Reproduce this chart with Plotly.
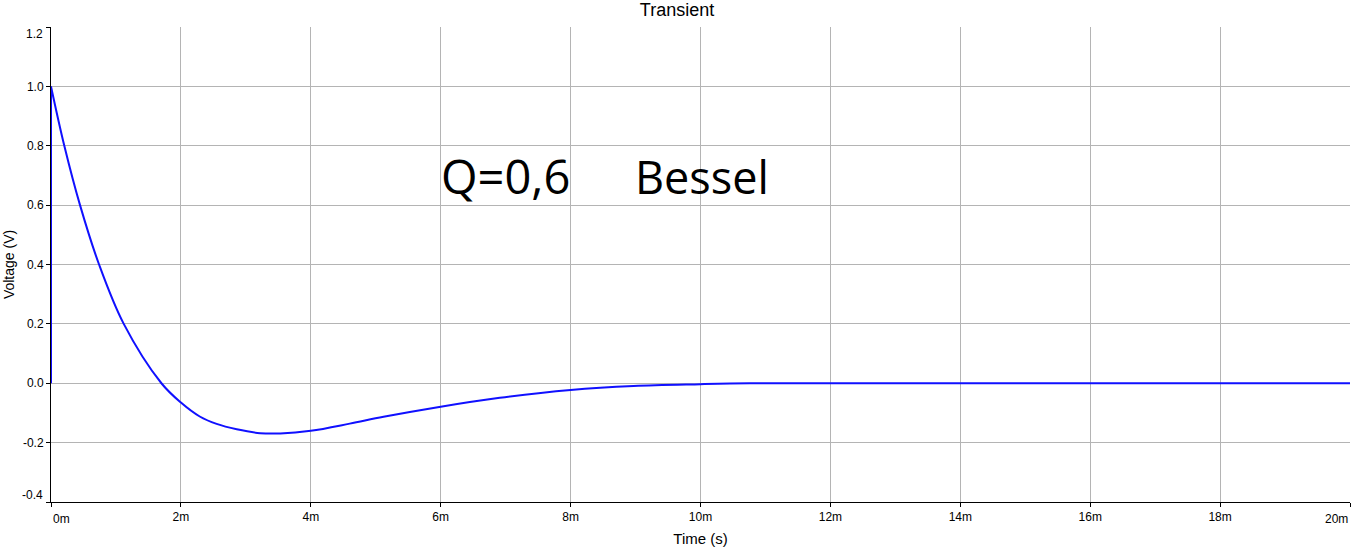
import plotly.graph_objects as go

# Time in milliseconds, voltage in volts
step_t = [0, 0]
step_v = [0.0, 1.0]

time_ms = [0, 0.205, 0.447, 0.74, 1.12, 1.70, 2.0, 2.29, 2.55, 2.86, 3.22,
           3.53, 4.0, 4.60, 5.12, 6.0, 6.91, 8.0, 8.97, 10.0, 10.76, 12, 14, 16, 18, 20]
voltage = [1.0, 0.8, 0.6, 0.4, 0.2, 0.0, -0.065, -0.112, -0.137, -0.155, -0.168,
           -0.169, -0.160, -0.136, -0.113, -0.079, -0.049, -0.0225, -0.009, -0.003, 0.0,
           0.0, 0.0, 0.0, 0.0, 0.0]

x_ticks = [0, 2, 4, 6, 8, 10, 12, 14, 16, 18, 20]
x_labels = ["0m", "2m", "4m", "6m", "8m", "10m", "12m", "14m", "16m", "18m", "20m"]
y_ticks = [-0.4, -0.2, 0.0, 0.2, 0.4, 0.6, 0.8, 1.0, 1.2]
y_labels = ["-0.4", "-0.2", "0.0", "0.2", "0.4", "0.6", "0.8", "1.0", "1.2"]

# End labels are drawn as annotations so they sit inside the plot edges
x_text = [""] + x_labels[1:-1] + [""]
y_text = [""] + y_labels[1:-1] + [""]

fig = go.Figure()
fig.add_trace(go.Scatter(x=step_t, y=step_v, mode="lines",
                         line=dict(color="#1010ff", width=2), showlegend=False))
fig.add_trace(go.Scatter(x=time_ms, y=voltage, mode="lines",
                         line=dict(color="#1010ff", width=2, shape="spline", smoothing=1.0),
                         showlegend=False))

fig.add_annotation(x=6.99, y=0.697, text="Q=0,6", showarrow=False,
                   font=dict(family="Open Sans", size=47, color="black"))
fig.add_annotation(x=10.02, y=0.697, text="Bessel", showarrow=False,
                   font=dict(family="Open Sans", size=45, color="black"))

tick_font = dict(family="Liberation Sans, Arial", size=12, color="black")
fig.add_annotation(x=x_ticks[0], xref="x", y=0, yref="paper", text=x_labels[0],
                   xanchor="left", yanchor="top", yshift=-8, showarrow=False,
                   font=tick_font)
fig.add_annotation(x=x_ticks[-1], xref="x", y=0, yref="paper", text=x_labels[-1],
                   xanchor="right", yanchor="top", yshift=-8, showarrow=False,
                   font=tick_font)
fig.add_annotation(x=0, xref="paper", y=y_ticks[-1], yref="y", text=y_labels[-1],
                   xanchor="right", yanchor="middle", xshift=-6, yshift=-7,
                   showarrow=False, font=tick_font)
fig.add_annotation(x=0, xref="paper", y=y_ticks[0], yref="y", text=y_labels[0],
                   xanchor="right", yanchor="middle", xshift=-6, yshift=7,
                   showarrow=False, font=tick_font)

fig.update_layout(
    width=1354, height=551,
    margin=dict(l=51, r=4, t=26.5, b=48.5, autoexpand=False),
    paper_bgcolor="white", plot_bgcolor="white",
    font=dict(family="Liberation Sans, Arial", size=12, color="black"),
    title=dict(text="Transient", x=0.5, xref="container", y=0.982, yanchor="middle",
               font=dict(size=18, color="black")),
    xaxis=dict(range=[0, 20], tickvals=x_ticks, ticktext=x_text, automargin=False,
               showgrid=True, gridcolor="#b4b4b4", gridwidth=1,
               showline=True, linecolor="black", linewidth=1, mirror=False,
               ticks="outside", ticklen=4, tickcolor="black", zeroline=False,
               title=dict(text="Time (s)", font=dict(size=15), standoff=10)),
    yaxis=dict(range=[-0.4, 1.2], tickvals=y_ticks, ticktext=y_text, automargin=False,
               showgrid=True, gridcolor="#b4b4b4", gridwidth=1,
               showline=True, linecolor="black", linewidth=1,
               ticks="outside", ticklen=4, tickcolor="black", zeroline=False,
               title=dict(text="Voltage (V)", font=dict(size=14), standoff=5)),
)

fig.write_html("out.html", config={"displayModeBar": False},
               post_script="document.body.style.margin='0';")
